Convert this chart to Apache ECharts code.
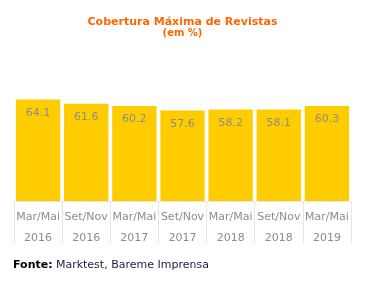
<!DOCTYPE html>
<html><head><meta charset="utf-8">
<script src="https://cdn.jsdelivr.net/npm/echarts@6/dist/echarts.min.js"></script>
<style>html,body{margin:0;padding:0;background:#fff}#c{width:365px;height:282px}</style>
</head><body><div id="c"></div>
<script>
var periods = ["Mar/Mai","Set/Nov","Mar/Mai","Set/Nov","Mar/Mai","Set/Nov","Mar/Mai"];
var years = ["2016","2016","2017","2017","2018","2018","2019"];
var values = [64.1, 61.6, 60.2, 57.6, 58.2, 58.1, 60.3];
var titleText = "Cobertura Máxima de Revistas";
var subtitleText = "(em %)";
var categories = periods.map(function(p,i){return p + "\n" + years[i];});
var FONT = "Verdana, 'DejaVu Sans', sans-serif";
var chart = echarts.init(document.getElementById('c'), null, {renderer:'canvas'});
chart.setOption({
  animation:false,
  title:{
    text:titleText, subtext:subtitleText, left:177.5, textAlign:'center', top:10, itemGap:-2,
    textStyle:{color:'#ff6600', fontFamily:FONT, fontSize:11, fontWeight:'bold', lineHeight:14},
    subtextStyle:{color:'#ff6600', fontFamily:FONT, fontSize:10, fontWeight:'bold', lineHeight:12}
  },
  grid:{left:14, right:14, top:89.5, bottom:81},
  xAxis:{
    type:'category', data:categories,
    axisLine:{show:true, lineStyle:{color:'#e6e6e6'}},
    axisTick:{show:true, length:43, alignWithLabel:false, lineStyle:{color:'#e6e6e6'}},
    axisLabel:{color:'#8c8c8c', fontFamily:FONT, fontSize:11, lineHeight:21, margin:5.5, interval:0}
  },
  yAxis:{type:'value', min:4, max:70, show:false, splitLine:{show:false}},
  series:[{
    type:'bar', data:values, barCategoryGap:'8%',
    itemStyle:{color:'#ffcc00'},
    label:{show:true, position:'insideTop', distance:8, color:'#8c8c8c', fontFamily:FONT, fontSize:11}
  }],
  graphic:[{
    type:'text', left:13, top:259,
    style:{
      text:'{b|Fonte:} {n|Marktest, Bareme Imprensa}',
      rich:{
        b:{fontFamily:FONT, fontSize:11, fontWeight:'bold', fill:'#000000'},
        n:{fontFamily:FONT, fontSize:11, fill:'#1c1c3c'}
      }
    }
  }]
});
</script></body></html>
